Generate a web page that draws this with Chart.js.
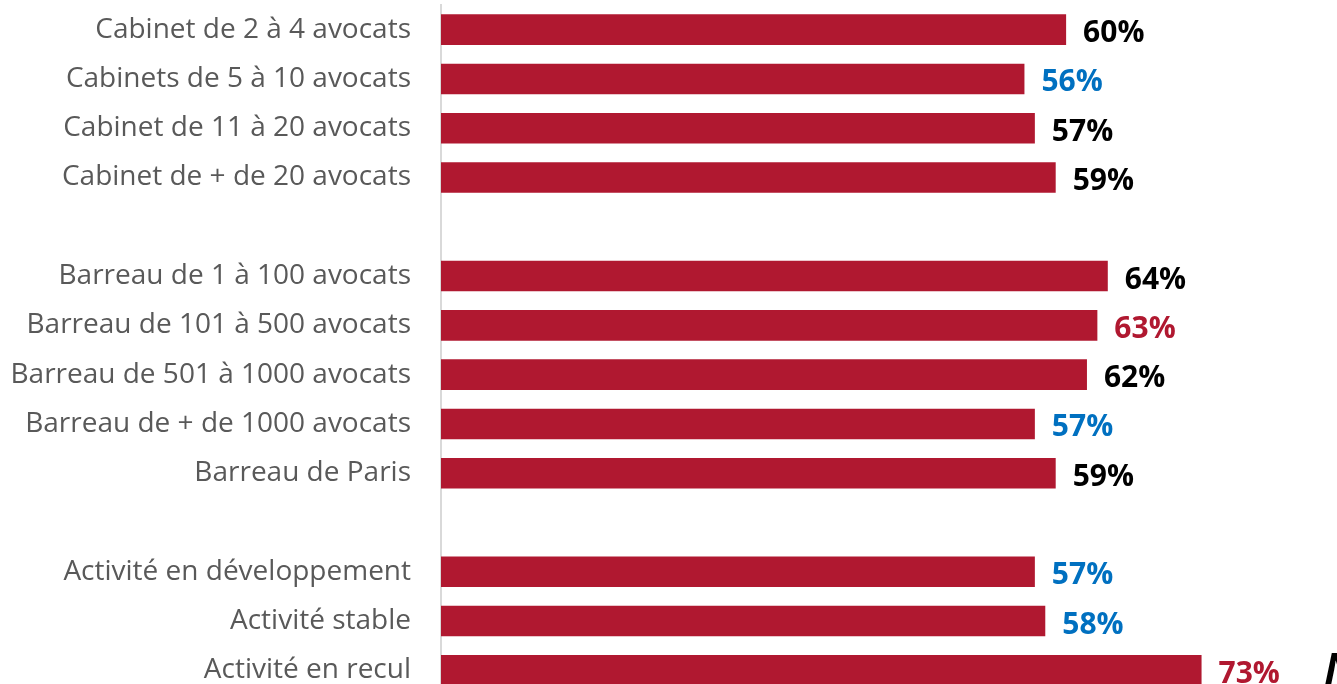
<!DOCTYPE html>
<html>
<head>
<meta charset="utf-8">
<script src="https://cdn.jsdelivr.net/npm/chart.js@4/dist/chart.umd.min.js"></script>
<style>
  html, body { margin: 0; padding: 0; background: #fff; overflow: hidden; }
  #wrap { position: relative; width: 1337px; height: 695px; }
</style>
</head>
<body>
<div id="wrap"><canvas id="chart"></canvas></div>
<script>
// categories (empty strings are the gaps between groups)
const categories = [
  'Cabinet de 2 à 4 avocats',
  'Cabinets de 5 à 10 avocats',
  'Cabinet de 11 à 20 avocats',
  'Cabinet de + de 20 avocats',
  '',
  'Barreau de 1 à 100 avocats',
  'Barreau de 101 à 500 avocats',
  'Barreau de 501 à 1000 avocats',
  'Barreau de + de 1000 avocats',
  'Barreau de Paris',
  '',
  'Activité en développement',
  'Activité stable',
  'Activité en recul',
];
const values = [60, 56, 57, 59, null, 64, 63, 62, 57, 59, null, 57, 58, 73];
const labelColors = ['#000000', '#0070C0', '#000000', '#000000', null, '#000000', '#B01830', '#000000', '#0070C0', '#000000', null, '#0070C0', '#0070C0', '#B01830'];

const BAR_COLOR = '#B01830';

// value labels at the end of each bar
const valueLabels = {
  id: 'valueLabels',
  afterDatasetsDraw(chart) {
    const ctx = chart.ctx;
    const meta = chart.getDatasetMeta(0);
    ctx.save();
    ctx.font = 'bold 30px "Open Sans"';
    ctx.textBaseline = 'middle';
    ctx.textAlign = 'left';
    meta.data.forEach((bar, i) => {
      if (values[i] == null) return;
      ctx.fillStyle = labelColors[i];
      ctx.fillText(values[i] + '%', bar.x + 17, bar.y + 4);
    });
    // cropped glyph at the right edge of the picture
    ctx.fillStyle = '#000';
    ctx.font = 'italic bold 44px "Open Sans"';
    ctx.fillText('N', 1324, 672);
    ctx.restore();
  },
};

new Chart(document.getElementById('chart'), {
  type: 'bar',
  data: {
    labels: categories,
    datasets: [{
      data: values,
      backgroundColor: BAR_COLOR,
      borderWidth: 0,
      barPercentage: 0.62,
      categoryPercentage: 1,
    }],
  },
  options: {
    indexAxis: 'y',
    responsive: true,
    maintainAspectRatio: false,
    animation: false,
    layout: { padding: { top: 5, bottom: 0, left: 0, right: 0 } },
    plugins: { legend: { display: false }, tooltip: { enabled: false } },
    scales: {
      x: {
        display: false,
        min: 0,
        max: 86,
      },
      y: {
        grid: { display: false, drawTicks: false },
        border: { display: true, color: '#D9D9D9', width: 2 },
        ticks: {
          color: '#595959',
          font: { family: 'Open Sans', size: 28 },
          padding: 30,
          autoSkip: false,
        },
        afterFit: s => {
          s.width = 441;
          s.paddingTop = 0;
          s.paddingBottom = 0;
        },
      },
    },
  },
  plugins: [valueLabels],
});
</script>
</body>
</html>
